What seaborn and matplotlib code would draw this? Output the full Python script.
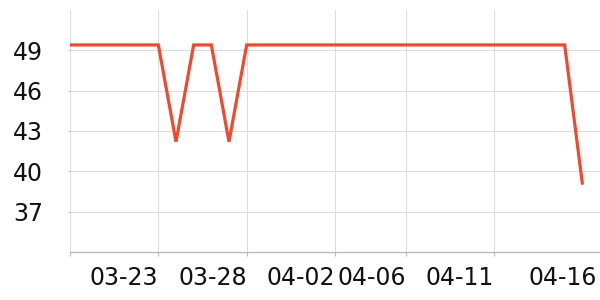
import matplotlib
matplotlib.use("Agg")
import matplotlib.pyplot as plt
import matplotlib.dates as mdates
import matplotlib.transforms as mtransforms
import seaborn as sns
import pandas as pd

# ---- data ----
dates = ["03-18", "03-19", "03-20", "03-21", "03-22", "03-23", "03-24", "03-25",
         "03-26", "03-27", "03-28", "03-29", "03-30", "03-31", "04-01", "04-02",
         "04-03", "04-04", "04-05", "04-06", "04-07", "04-08", "04-09", "04-10",
         "04-11", "04-12", "04-13", "04-14", "04-15", "04-16"]
values = [49.4, 49.4, 49.4, 49.4, 49.4, 49.4, 42.2, 49.4,
          49.4, 42.2, 49.4, 49.4, 49.4, 49.4, 49.4, 49.4,
          49.4, 49.4, 49.4, 49.4, 49.4, 49.4, 49.4, 49.4,
          49.4, 49.4, 49.4, 49.4, 49.4, 39.1]
tick_dates = ["03-18", "03-23", "03-28", "04-02", "04-06", "04-11", "04-16"]
y_ticks = [37, 40, 43, 46, 49]
year = "2024"

df = pd.DataFrame({"date": pd.to_datetime([f"{year}-{d}" for d in dates]),
                   "value": values})

sns.set_theme(style="white")
plt.rcParams["font.family"] = ["DejaVu Sans"]

fig = plt.figure(figsize=(6, 3), dpi=100)
ax = fig.add_axes([70 / 600, 1 - 252 / 300, 530 / 600, 242 / 300])

sns.lineplot(data=df, x="date", y="value", ax=ax, color="#EE4A2F",
             linewidth=2.3, solid_joinstyle="miter")

ax.set_xlim(pd.Timestamp(f"{year}-03-18"), pd.Timestamp(f"{year}-04-17"))
ax.set_ylim(34, 52)

tick_ts = [pd.Timestamp(f"{year}-{d}") for d in tick_dates]
ax.set_xticks(tick_ts)
ax.set_xticklabels(tick_dates)
ax.set_yticks(y_ticks)
ax.set_yticklabels([str(v) for v in y_ticks])

ax.grid(True, color="#dddddd", linewidth=0.8)
for s in ["top", "right", "left"]:
    ax.spines[s].set_visible(False)
ax.spines["bottom"].set_color("#bbbbbb")
ax.spines["bottom"].set_linewidth(1.0)

ax.tick_params(axis="x", length=3, width=0.8, color="#bbbbbb", pad=7,
               labelsize=17, labelcolor="#111111", bottom=True)
ax.tick_params(axis="y", length=1.5, width=0.8, color="#bbbbbb", pad=18,
               labelsize=17, labelcolor="#111111", left=True)

xlabels = ax.get_xticklabels()
for lab in xlabels:
    lab.set_ha("right")
xlabels[0].set_visible(False)
# last label shifted to fit within canvas
xlabels[-1].set_transform(xlabels[-1].get_transform() +
                          mtransforms.ScaledTranslation(15 / 100, 0, fig.dpi_scale_trans))
gl = ax.get_xgridlines()
gl[-1].set_visible(False)
ax.xaxis.get_major_ticks()[-1].tick1line.set_visible(False)

ax.set_xlabel("")
ax.set_ylabel("")

fig.savefig("out.png", dpi=100)
